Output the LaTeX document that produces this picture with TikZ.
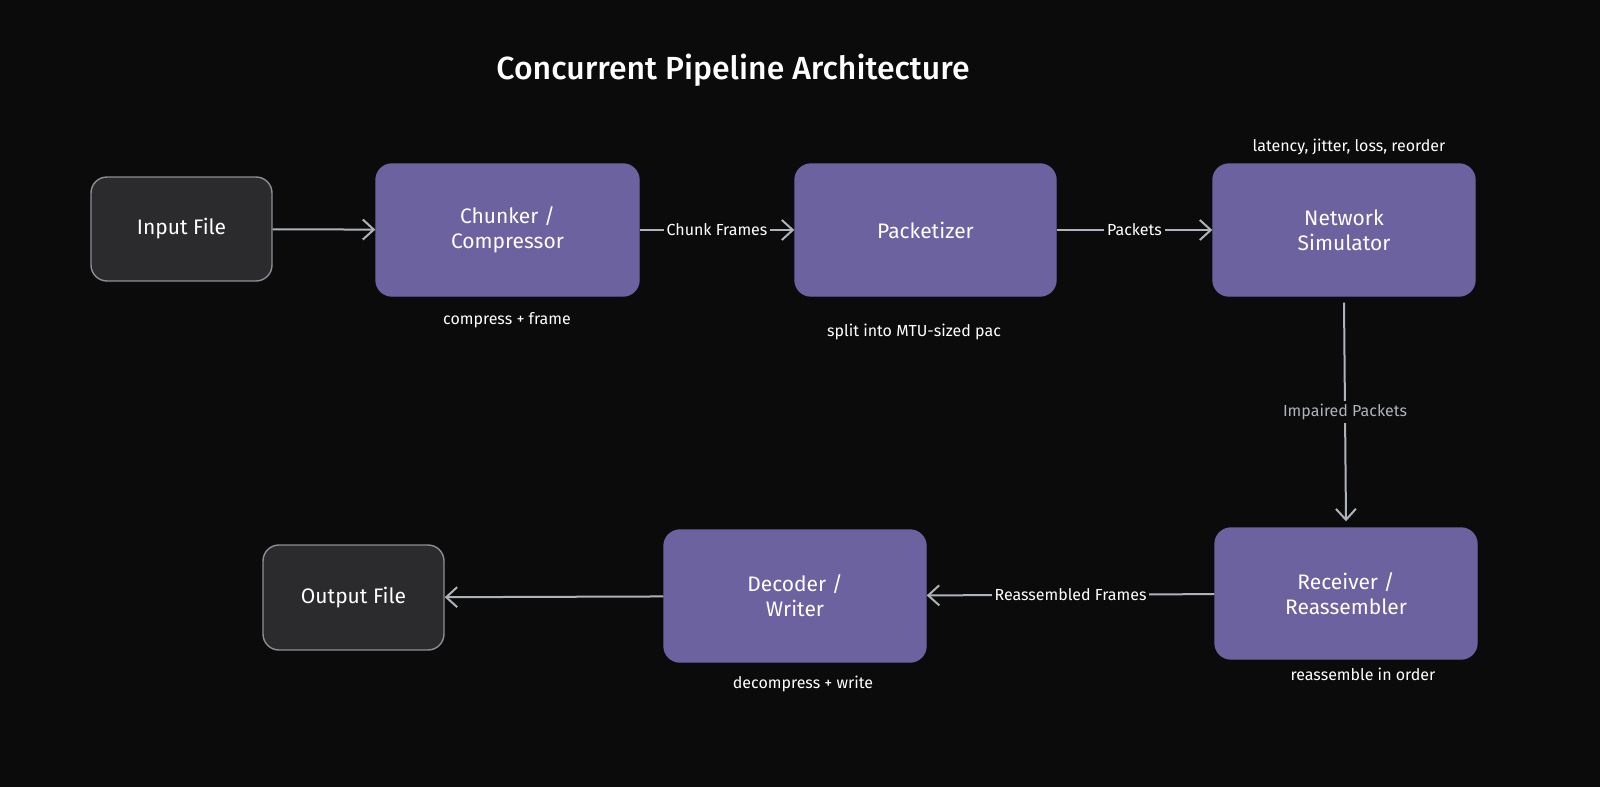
\documentclass[tikz,border=0pt]{standalone}
\usepackage{fontspec}
\setmainfont{Fira Sans}
\usetikzlibrary{arrows.meta,calc}
\definecolor{bg}{HTML}{0B0B0C}
\definecolor{purp}{HTML}{6C62A0}
\definecolor{dark}{HTML}{2B2B2D}
\definecolor{edge}{HTML}{AEB3BA}
\begin{document}
\begin{tikzpicture}[x=1pt,y=-1pt,
  box/.style={draw=#1,line width=1.4pt,rounded corners=16pt,text=white,align=center,font=\fontsize{21}{25}\selectfont,inner sep=0pt},
  pbox/.style={box=purp,fill=purp},
  dbox/.style={box=edge!80!black,fill=dark},
  conn/.style={draw=edge,line width=2pt,-{Straight Barb[length=11pt,width=20pt,line width=2pt]}},
  lbl/.style={fill=bg,text=white,font=\fontsize{16}{19}\selectfont,inner sep=3pt},
  note/.style={text=white,font=\fontsize{16}{19}\selectfont}]
\fill[bg] (0,0) rectangle (1600,787);
\useasboundingbox (0,0) rectangle (1600,787);
\node[text=white,font=\fontsize{32}{38}\selectfont\fontspec{Fira Sans Medium}] (title) at (733,70) {Concurrent Pipeline Architecture};
\node[dbox,minimum width=181pt,minimum height=104pt] (in) at (181.5,229) {Input File};
\node[pbox,minimum width=263pt,minimum height=132pt] (chk) at (507.5,230) {Chunker /\\Compressor};
\node[pbox,minimum width=261pt,minimum height=132pt] (pkt) at (925.5,230) {Packetizer};
\node[pbox,minimum width=262pt,minimum height=132pt] (net) at (1344,230) {Network\\Simulator};
\node[pbox,minimum width=262pt,minimum height=131pt] (rcv) at (1346,593.5) {Receiver /\\Reassembler};
\node[pbox,minimum width=262pt,minimum height=132pt] (dec) at (795,596) {Decoder /\\Writer};
\node[dbox,minimum width=181pt,minimum height=105pt] (out) at (353.5,597.5) {Output File};
\node[note] (n1) at (1349,147) {latency, jitter, loss, reorder};
\node[note] (n2) at (507,320) {compress + frame};
\node[note] (n3) at (914,332) {split into MTU-sized pac};
\node[note] (n4) at (1363,674) {reassemble in order};
\node[note] (n5) at (803,684) {decompress + write};
\draw[conn] (in) -- (chk);
\draw[conn] (chk) -- node[lbl] {Chunk Frames} (pkt);
\draw[conn] (pkt) -- node[lbl] {Packets} (net);
\draw[conn] ($(net.south)+(0,6)$) -- node[lbl,text=edge] {Impaired Packets} ($(rcv.north)+(0,-6)$);
\draw[conn] (rcv) -- node[lbl] {Reassembled Frames} (dec);
\draw[conn] (dec) -- (out);
\end{tikzpicture}
\end{document}
